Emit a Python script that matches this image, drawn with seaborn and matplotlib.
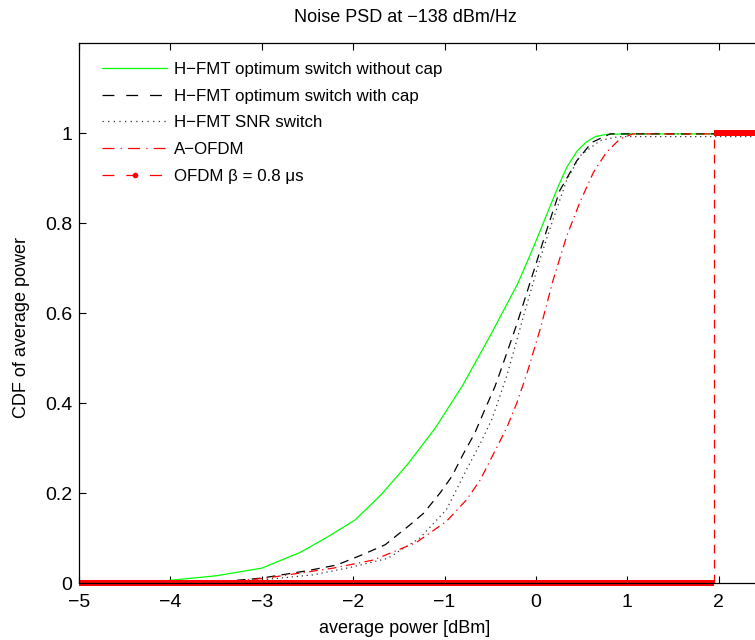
import matplotlib
matplotlib.use("Agg")
import matplotlib.pyplot as plt
from matplotlib.lines import Line2D
import seaborn as sns

sns.set_style("ticks")
plt.rcParams['font.family'] = ['Liberation Sans', 'DejaVu Sans']
plt.rcParams['axes.unicode_minus'] = True
plt.rcParams['text.color'] = 'black'
plt.rcParams['axes.labelcolor'] = 'black'

# ---------------- data ----------------
green_x = [-4.4, -4.15, -4.0, -3.5, -3.0, -2.58, -2.3, -1.98, -1.7, -1.4, -1.1, -0.8,
           -0.5, -0.2, -0.1, 0.0, 0.12, 0.24, 0.34, 0.45, 0.55, 0.65, 0.77, 1.0, 2.4]
green_y = [0.0, 0.002, 0.006, 0.016, 0.033, 0.068, 0.1, 0.14, 0.195, 0.265, 0.345, 0.44,
           0.55, 0.665, 0.712, 0.76, 0.82, 0.88, 0.925, 0.96, 0.98, 0.992, 0.997, 0.998, 0.998]

cap_x = [-3.6, -3.0, -2.51, -2.18, -1.91, -1.65, -1.38, -1.23, -1.05, -0.92, -0.80,
         -0.67, -0.55, -0.45, -0.39, -0.21, -0.03, 0.12, 0.26, 0.445, 0.61, 0.81, 1.0, 2.4]
cap_y = [0.0, 0.011, 0.027, 0.04, 0.062, 0.085, 0.129, 0.155, 0.2, 0.237, 0.285,
         0.333, 0.39, 0.436, 0.47, 0.575, 0.69, 0.786, 0.872, 0.938, 0.979, 0.998, 0.998, 0.998]

snr_x = [-3.6, -2.95, -2.44, -2.0, -1.62, -1.27, -0.98, -0.76, -0.61, -0.48, -0.32,
         -0.12, 0.044, 0.19, 0.336, 0.48, 0.70, 0.9, 2.4]
snr_y = [0.0, 0.008, 0.018, 0.036, 0.055, 0.1, 0.163, 0.252, 0.31, 0.365, 0.46,
         0.605, 0.72, 0.81, 0.895, 0.949, 0.983, 0.992, 0.992]

aofdm_x = [-3.5, -2.95, -2.22, -1.78, -1.31, -0.98, -0.76, -0.61, -0.47, -0.32, -0.21,
           -0.10, 0.044, 0.19, 0.336, 0.48, 0.627, 0.77, 0.92, 1.06, 2.4]
aofdm_y = [0.0, 0.011, 0.033, 0.051, 0.09, 0.137, 0.185, 0.229, 0.285, 0.345, 0.40,
           0.465, 0.563, 0.675, 0.771, 0.846, 0.912, 0.957, 0.987, 0.998, 0.998]

ofdm_x = [-5.0, 1.95, 1.95, 2.4]
ofdm_y = [0.0, 0.0, 1.0, 1.0]

labels = ["H\u2212FMT optimum switch without cap",
          "H\u2212FMT optimum switch with cap",
          "H\u2212FMT SNR switch",
          "A\u2212OFDM",
          "OFDM \u03b2 = 0.8 \u03bcs"]
xticks = [-5, -4, -3, -2, -1, 0, 1, 2]
yticks = [0, 0.2, 0.4, 0.6, 0.8, 1]

# ---------------- figure ----------------
W, H = 755, 640
fig = plt.figure(figsize=(W / 100, H / 100), dpi=100)
ax_l, ax_b, ax_t = 79, 583, 43
ax = fig.add_axes([ax_l / W, (H - ax_b) / H, 1 - ax_l / W, (ax_b - ax_t) / H])

RED = "#ff0000"
GREEN = "#00ff00"
LW = 0.9
DASH = (0, (7, 5))
DOT = (0, (1, 3))
DASHDOT = (0, (7, 3.5, 1, 3.5))

sns.lineplot(x=green_x, y=green_y, ax=ax, color=GREEN, lw=LW, estimator=None, sort=False)
sns.lineplot(x=cap_x, y=cap_y, ax=ax, color="black", lw=LW, estimator=None, sort=False,
             linestyle=DASH)
sns.lineplot(x=snr_x, y=snr_y, ax=ax, color="#333333", lw=LW, estimator=None, sort=False,
             linestyle=DOT)
sns.lineplot(x=aofdm_x, y=aofdm_y, ax=ax, color=RED, lw=LW, estimator=None, sort=False,
             linestyle=DASHDOT)

# OFDM: step CDF (thick horizontal parts, thin dashed jump)
sns.lineplot(x=ofdm_x[0:2], y=ofdm_y[0:2], ax=ax, color=RED, lw=4.3, estimator=None,
             sort=False, clip_on=False, solid_capstyle="butt")
sns.lineplot(x=ofdm_x[2:4], y=ofdm_y[2:4], ax=ax, color=RED, lw=4.3, estimator=None,
             sort=False, clip_on=False, solid_capstyle="butt")
sns.lineplot(x=ofdm_x[1:3], y=ofdm_y[1:3], ax=ax, color=RED, lw=LW, estimator=None,
             sort=False, linestyle=DASH)

ax.set_xlim(-5, (W - ax_l) / 91.4 - 5)
ax.set_ylim(0, 1.2)
ax.set_xticks(xticks)
ax.set_yticks(yticks)
ax.set_xticklabels([f"{t:g}".replace("-", "\u2212") for t in xticks])
ax.set_yticklabels([f"{t:g}" for t in yticks])
ax.tick_params(direction="in", length=5, width=0.8, labelsize=14, top=True,
               right=False, colors="black", pad=5)
ax.tick_params(axis="x", pad=8)
for s in ["left", "bottom", "top"]:
    ax.spines[s].set_linewidth(0.9)
    ax.spines[s].set_color("black")
ax.spines["right"].set_visible(False)

ax.set_xlabel("average power [dBm]", fontsize=13, color="black")
ax.set_ylabel("CDF of average power", fontsize=13, color="black")
ax.xaxis.set_label_coords((405 - ax_l) / (W - ax_l), -0.068)
ax.yaxis.set_label_coords(-0.073, (ax_b - 328) / (ax_b - ax_t))
fig.text(405 / W, 1 - 17 / H, "Noise PSD at \u2212138 dBm/Hz", ha="center", va="center",
         fontsize=13, color="black")

handles = [
    Line2D([], [], color=GREEN, lw=LW),
    Line2D([], [], color="black", lw=LW, linestyle=(0, (9.5, 9.5))),
    Line2D([], [], color="#333333", lw=LW, linestyle=(0, (1, 3.5))),
    Line2D([], [], color=RED, lw=LW, linestyle=(0, (9.5, 5, 1, 5))),
    Line2D([], [], color=RED, lw=LW, linestyle=(0, (9.5, 9.5)), marker=".", markersize=6),
]
leg = ax.legend(handles, labels, loc="upper left",
                bbox_to_anchor=((102 - ax_l) / (W - ax_l), (ax_b - 62) / (ax_b - ax_t)),
                frameon=False, fontsize=12.2, handlelength=3.85, handletextpad=0.38,
                labelspacing=0.69, borderpad=0, borderaxespad=0)
for t in leg.get_texts():
    t.set_color("black")

fig.savefig("out.png", dpi=100)
